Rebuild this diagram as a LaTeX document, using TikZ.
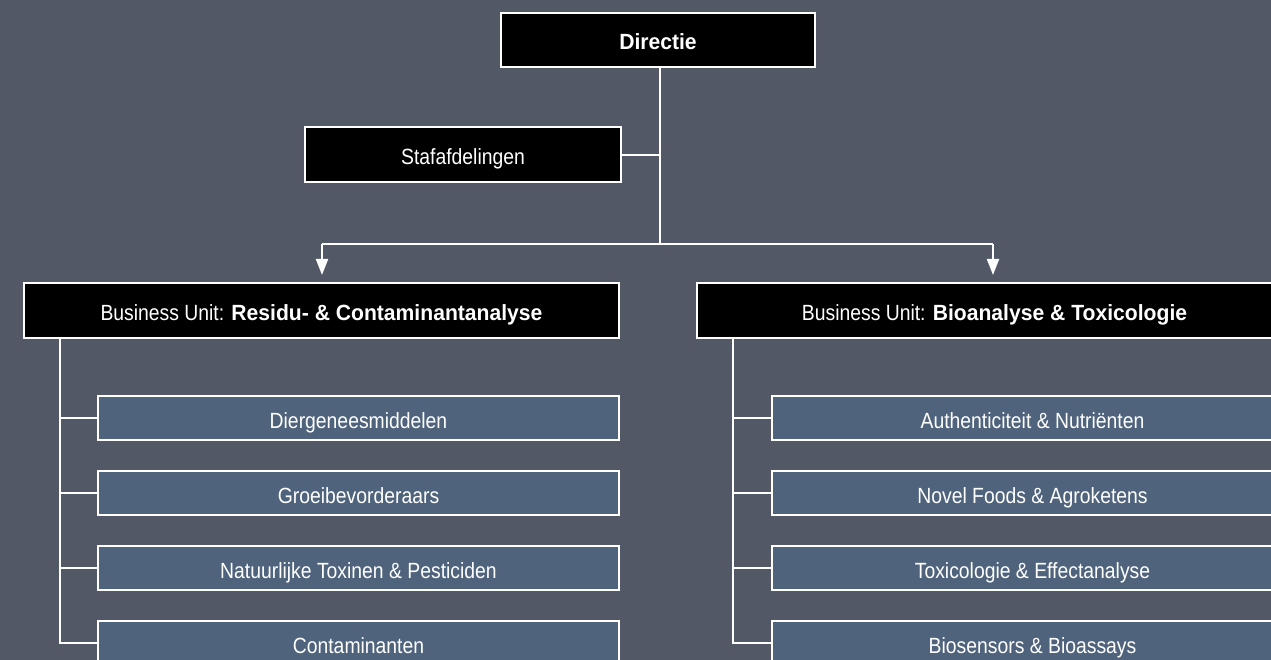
\documentclass[tikz,border=0pt]{standalone}
\usepackage{fontspec}
\setmainfont{Liberation Sans}[FakeStretch=0.88]
\newfontfamily\boldf{Liberation Sans}[FakeStretch=0.96]
\usetikzlibrary{arrows.meta}
\definecolor{bgc}{RGB}{82,88,102}
\definecolor{unitc}{RGB}{79,99,125}
\tikzset{
  base/.style={draw=white, line width=2pt, text=white, inner sep=0pt, text height=24pt, text depth=4pt, font=\fontsize{22}{24}\selectfont},
  blackbox/.style={base, fill=black},
  unitbox/.style={base, fill=unitc, minimum height=44pt, minimum width=521pt},
  conn/.style={draw=white, line width=2pt},
  arr/.style={conn, -{Triangle[width=12pt,length=16pt]}, shorten >=7pt}
}
\begin{document}
\begin{tikzpicture}[x=1pt,y=-1pt]
\useasboundingbox (0,0) rectangle (1271,660);
\fill[bgc] (0,0) rectangle (1271,660);
\clip (0,0) rectangle (1271,660);
% top
\node[blackbox, minimum width=314pt, minimum height=54pt] (dir) at (658,40) {\boldf\bfseries Directie};
\node[blackbox, minimum width=316pt, minimum height=55pt] (staf) at (463,155) {Stafafdelingen};
\coordinate (dtop) at (660,67);
\coordinate (split) at (660,244);
\coordinate (stafj) at (660,155);
\node[blackbox, minimum width=595pt, minimum height=55pt] (bu1) at (321.5,310.5) {Business Unit: {\boldf\bfseries Residu- \& Contaminantanalyse}};
\node[blackbox, minimum width=595pt, minimum height=55pt] (bu2) at (994.5,310.5) {Business Unit: {\boldf\bfseries Bioanalyse \& Toxicologie}};
\draw[conn] (dtop) -- (split);
\draw[conn] (staf.east) -- (stafj);
\coordinate (l1) at (322,244);
\coordinate (r1) at (993,244);
\draw[conn] (l1) -- (r1);
\draw[arr] (l1) -- (l1 |- bu1.north);
\draw[arr] (r1) -- (r1 |- bu2.north);
% left column
\node[unitbox] (a1) at (358.5,418) {Diergeneesmiddelen};
\node[unitbox] (a2) at (358.5,493) {Groeibevorderaars};
\node[unitbox] (a3) at (358.5,568) {Natuurlijke Toxinen \& Pesticiden};
\node[unitbox] (a4) at (358.5,643) {Contaminanten};
\coordinate (at) at (60,338);
\draw[conn] (at) -- (60,643) -- (a4.west);
\foreach \n in {a1,a2,a3} \draw[conn] (at |- \n.west) -- (\n.west);
% right column
\node[unitbox] (b1) at (1032.5,418) {Authenticiteit \& Nutriënten};
\node[unitbox] (b2) at (1032.5,493) {Novel Foods \& Agroketens};
\node[unitbox] (b3) at (1032.5,568) {Toxicologie \& Effectanalyse};
\node[unitbox] (b4) at (1032.5,643) {Biosensors \& Bioassays};
\coordinate (bt) at (733,338);
\draw[conn] (bt) -- (733,643) -- (b4.west);
\foreach \n in {b1,b2,b3} \draw[conn] (bt |- \n.west) -- (\n.west);
\end{tikzpicture}
\end{document}
